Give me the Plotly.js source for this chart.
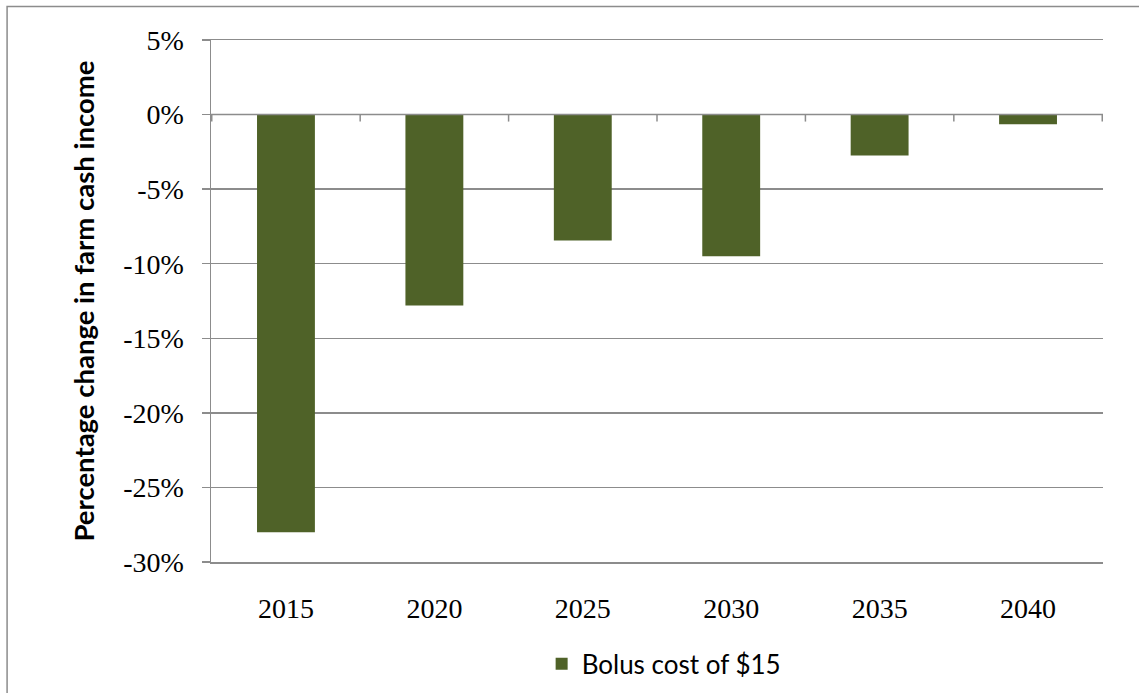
<!DOCTYPE html>
<html>
<head>
<meta charset="utf-8">
<script src="https://cdn.plot.ly/plotly-3.0.1.min.js"></script>
<style>html,body{margin:0;padding:0;background:#fff;}#chart{width:1139px;height:693px;}</style>
</head>
<body>
<div id="chart"></div>
<script>
const years = ['2015', '2020', '2025', '2030', '2035', '2040'];
const changePct = [-28.0, -12.8, -8.45, -9.5, -2.75, -0.65];
const seriesName = 'Bolus cost of $15';
const yTickVals = [5, 0, -5, -10, -15, -20, -25, -30];
const yTickText = ['5%', '0%', '-5%', '-10%', '-15%', '-20%', '-25%', '-30%'];
const yTitle = 'Percentage change in farm cash income';

const gray = '#8c8c8c';
const tickFont = {family: 'Liberation Serif, serif', size: 28, color: '#000'};

const trace = {
  type: 'bar',
  x: years,
  y: changePct,
  name: seriesName,
  marker: {color: '#4f6228'},
  showlegend: true,
  hoverinfo: 'x+y'
};

// tick marks on the zero line at category boundaries
const shapes = [];
for (let i = 0; i <= years.length; i++) {
  shapes.push({
    type: 'line', xref: 'x', yref: 'y', ysizemode: 'pixel', yanchor: 0,
    x0: i - 0.5, x1: i - 0.5, y0: 0, y1: -7,
    line: {color: gray, width: 1.5}
  });
}
// zero axis line
shapes.push({type: 'line', xref: 'paper', yref: 'y', x0: 0, x1: 1, y0: 0, y1: 0,
  line: {color: gray, width: 1.5}});
// chart area border
shapes.push({type: 'rect', xref: 'paper', yref: 'paper', x0: -0.2286, x1: 1.2, y0: -0.5, y1: 1.0640,
  line: {color: gray, width: 1.5}, fillcolor: 'rgba(0,0,0,0)', layer: 'below'});

const layout = {
  width: 1139, height: 693,
  margin: {l: 211, r: 36, t: 40, b: 131, autoexpand: false},
  paper_bgcolor: '#fff', plot_bgcolor: '#fff',
  bargap: 0.61,
  xaxis: {
    type: 'category',
    tickfont: tickFont,
    ticks: '', showgrid: false, zeroline: false,
    showline: true, mirror: true, linecolor: gray, linewidth: 1.5,
    ticklabelstandoff: 21,
    fixedrange: true
  },
  yaxis: {
    range: [-30, 5],
    tickvals: yTickVals, ticktext: yTickText,
    tickfont: tickFont,
    ticks: 'outside', ticklen: 8, tickcolor: gray, tickwidth: 1.5,
    showline: true, linecolor: gray, linewidth: 1.5,
    showgrid: true, gridcolor: gray, gridwidth: 1.5,
    zeroline: false,
    ticklabelstandoff: 12,
    title: {text: yTitle, font: {family: 'Lato, Carlito, sans-serif', size: 27.5, color: '#000', weight: 'bold'}, standoff: 20},
    fixedrange: true
  },
  legend: {
    orientation: 'h', x: 0.508, xanchor: 'center', y: -0.15, yanchor: 'top',
    font: {family: 'Lato, Carlito, sans-serif', size: 26, color: '#000'},
    itemwidth: 30
  },
  shapes: shapes
};

Plotly.newPlot('chart', [trace], layout, {displayModeBar: false, staticPlot: true});
</script>
</body>
</html>
